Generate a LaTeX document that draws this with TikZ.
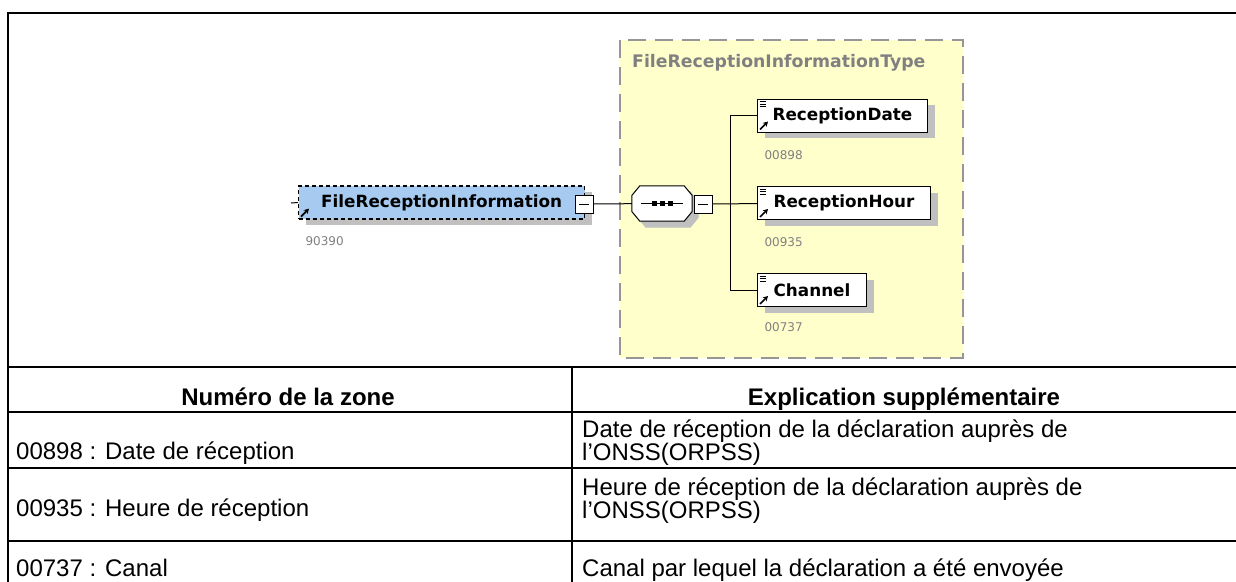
\documentclass[tikz,border=0pt]{standalone}
\usepackage{fontspec}
\setmainfont{Liberation Sans}
\newfontfamily\xsdfont{DejaVu Sans}
\usetikzlibrary{shadows,arrows.meta}
\definecolor{elemblue}{RGB}{166,202,240}
\definecolor{typeyellow}{RGB}{255,255,204}
\definecolor{shadowgray}{RGB}{192,192,192}
\definecolor{idgray}{RGB}{128,128,128}
\definecolor{typeedge}{RGB}{150,150,150}

\begin{document}
\begin{tikzpicture}[x=1pt,y=-1pt,
    elem/.style={draw, fill=white, line width=1pt, minimum height=33pt, inner xsep=0pt, anchor=west,
      font=\xsdfont\bfseries\fontsize{16.8}{16.8}\selectfont,
      drop shadow={shadow xshift=7pt, shadow yshift=-6pt, fill=shadowgray, opacity=1}},
    minus/.style={draw, fill=white, line width=1pt, minimum size=18pt, inner sep=0pt,
      path picture={\draw ([xshift=4pt]path picture bounding box.west) -- ([xshift=-4pt]path picture bounding box.east);}},
    zone/.style={anchor=west, text=idgray, font=\xsdfont\fontsize{12}{12}\selectfont},
    cell/.style={anchor=base west, inner sep=0pt, font=\fontsize{24}{23}\selectfont},
    head/.style={anchor=base, inner sep=0pt, font=\bfseries\fontsize{24}{23}\selectfont},
    rule/.style={line width=2.3pt}]
    \useasboundingbox (0,0) rectangle (1236,581);

    % complex type box
    \draw [draw=typeedge, fill=typeyellow, line width=1.5pt, dash pattern=on 18pt off 9pt] (620,40) rectangle (963,358);
    \node (tl) [anchor=west, inner sep=0pt, text=idgray, font=\xsdfont\bfseries\fontsize{17.3}{17.3}\selectfont] at (632,63) {FileReceptionInformationType};

    % elements
    \node (fri) [elem, fill=elemblue, line width=1.3pt, dash pattern=on 4pt off 3pt, minimum width=286pt] at (298,202.5) {FileReceptionInformation\hspace{10pt}};
    \node (rd) [elem, minimum width=170pt] at (757,115.5) {ReceptionDate};
    \node (rh) [elem, minimum width=173pt] at (757,203) {ReceptionHour};
    \node (ch) [elem, minimum width=109pt] at (757,290) {Channel};
    \node (z1) [zone] at (302,241) {90390};
    \node (z2) [zone] at (761,155) {00898};
    \node (z3) [zone] at (761,242) {00935};
    \node (z4) [zone] at (761,327) {00737};

    % icons
    \foreach \n in {fri,rd,rh,ch}
      \draw [line width=1.7pt, -{Stealth[length=5pt,width=5.5pt]}] ([shift={(3,-3)}]\n.south west) -- ([shift={(11,-11)}]\n.south west);
    \foreach \n in {rd,rh,ch}
      \foreach \d in {3,5.5,8}
        \draw [line width=0.8pt] ([shift={(2.5,\d)}]\n.north west) -- ([shift={(9,\d)}]\n.north west);

    % sequence compositor
    \node (seq) [minimum width=60pt, minimum height=35pt, inner sep=0pt] at (662,203.5) {};
    \foreach \s/\c/\e in {6/shadowgray/shadowgray, 0/white/black}
      \draw [fill=\c, draw=\e, line width=1pt] ([shift={(\s,\s-8)}]seq.west) -- ([shift={(\s+8,\s)}]seq.north west)
        -- ([shift={(\s-8,\s)}]seq.north east) -- ([shift={(\s,\s-8)}]seq.east) -- ([shift={(\s,\s+8)}]seq.east)
        -- ([shift={(\s-8,\s)}]seq.south east) -- ([shift={(\s+8,\s)}]seq.south west) -- ([shift={(\s,\s+8)}]seq.west) -- cycle;
    \draw [line width=1pt] ([xshift=9]seq.west) -- ([xshift=-9]seq.east);
    \foreach \dx in {-8,0,8}
      \fill ([shift={(\dx-2.5,-2.5)}]seq.center) rectangle ([shift={(\dx+2.5,2.5)}]seq.center);

    \node (m1) [minus] at (584,204) {};
    \node (m2) [minus] at (703,204) {};
    \coordinate (br) at (730,204);
    \coordinate (lt) at (291,203);

    % connectors
    \draw [line width=1pt] (lt) -- (fri.west);
    \draw [line width=1pt] (m1) -- (seq);
    \draw [line width=1pt] (m2) -- (rh);
    \draw [line width=1pt] (br) |- (rd);
    \draw [line width=1pt] (br) |- (ch);

    % table
    \draw [rule] (1240,13) -| (8,590);
    \foreach \y in {367,412,468,541}
      \draw [rule] (8,\y) -- (1240,\y);
    \draw [rule] (572,367) -- (572,590);

    \node (h1) [head] at (288,405) {Numéro de la zone};
    \node (h2) [head] at (904,405) {Explication supplémentaire};
    \node (a1) [cell] at (16,459) {00898 : Date de réception};
    \node (b1) [cell] at (582,437) {Date de réception de la déclaration auprès de};
    \node (b1x) [cell] at (582,460) {l’ONSS(ORPSS)};
    \node (a2) [cell] at (16,516) {00935 : Heure de réception};
    \node (b2) [cell] at (582,495) {Heure de réception de la déclaration auprès de};
    \node (b2x) [cell] at (582,518) {l’ONSS(ORPSS)};
    \node (a3) [cell] at (16,576) {00737 : Canal};
    \node (b3) [cell] at (582,576) {Canal par lequel la déclaration a été envoyée};
  \end{tikzpicture}
\end{document}
